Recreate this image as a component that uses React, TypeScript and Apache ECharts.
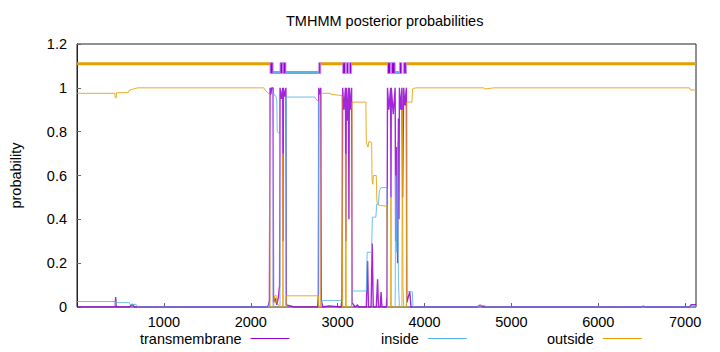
import React, { useEffect, useRef } from "react";
import * as echarts from "echarts";

const seriesNames = ["transmembrane", "inside", "outside"];
const seriesColors = ["#9400d3", "#56b4e9", "#e69f00"];

const transmembrane: number[][] = [
  [1, 0], [400, 0], [440, 0], [445, 0.045], [452, 0], [600, 0], [640, 0.012], [660, 0], [700, 0],
  [2190, 0], [2205, 0.01], [2215, 0.03],
  [2222, 1], [2232, 0.97], [2240, 1], [2257, 1], [2262, 0.02], [2280, 0.04], [2300, 0.01], [2320, 0.05], [2332, 0.1],
  [2337, 1], [2352, 0.95], [2368, 1], [2372, 0.3], [2376, 1], [2390, 0.96], [2405, 1], [2410, 0.01], [2500, 0],
  [2770, 0], [2778, 0.05],
  [2783, 1], [2795, 0.97], [2806, 1], [2812, 0.03], [2830, 0], [2900, 0.005], [3040, 0], [3050, 0.04],
  [3058, 1], [3072, 0.9], [3090, 1], [3094, 0.3], [3100, 1], [3112, 0.85], [3125, 1], [3130, 0.4], [3135, 1],
  [3148, 0.9], [3161, 1], [3166, 0.02],
  [3200, 0], [3230, 0.01], [3240, 0],
  [3330, 0], [3345, 0.21], [3355, 0], [3385, 0], [3398, 0.29], [3410, 0], [3445, 0], [3460, 0.127], [3470, 0],
  [3490, 0], [3500, 0.068], [3510, 0], [3560, 0], [3568, 0.05],
  [3574, 1], [3590, 0.9], [3610, 1], [3614, 0.5], [3618, 1], [3640, 0.88], [3662, 1], [3668, 0.3], [3680, 0.73],
  [3690, 0.2], [3700, 0.86], [3706, 0.4], [3711, 1], [3725, 0.9], [3740, 1], [3748, 0.5], [3760, 1], [3775, 0.92],
  [3791, 1], [3796, 0.02], [3830, 0.07], [3845, 0],
  [4600, 0], [4640, 0.008], [4680, 0], [6500, 0], [6520, 0.004], [6540, 0], [7050, 0], [7070, 0.01], [7125, 0.01],
];

const inside: number[][] = [
  [1, 0.025], [440, 0.025], [445, 0.005], [452, 0.02], [600, 0.02], [610, 0.012], [680, 0.012], [700, 0],
  [2200, 0], [2215, 0.015], [2222, 0], [2257, 0], [2262, 0.975], [2290, 0.96], [2300, 0.94], [2305, 0.8],
  [2330, 0.79], [2337, 0], [2405, 0], [2410, 0.958], [2740, 0.958], [2745, 0.95], [2778, 0.94], [2783, 0],
  [2806, 0], [2812, 0.03], [3050, 0.03], [3058, 0], [3161, 0], [3166, 0.073], [3330, 0.073], [3340, 0.25],
  [3390, 0.25], [3400, 0.41], [3440, 0.41], [3450, 0.47], [3470, 0.47], [3480, 0.53], [3500, 0.545],
  [3568, 0.545], [3574, 0], [3662, 0], [3668, 0.6], [3680, 0.25], [3690, 0.75], [3700, 0.12], [3711, 0],
  [3791, 0], [3796, 0.07], [3860, 0.07], [3868, 0], [4600, 0], [4640, 0.006], [4700, 0.006], [4710, 0],
  [7060, 0], [7080, 0.004], [7125, 0.004],
];

const outside: number[][] = [
  [1, 0.975], [435, 0.975], [440, 0.955], [452, 0.955], [455, 0.978], [590, 0.978], [600, 0.988], [650, 0.995],
  [700, 1], [2150, 1], [2165, 0.99], [2215, 0.97], [2222, 0], [2257, 0], [2262, 0.005], [2275, 0.05],
  [2290, 0.055], [2300, 0.02], [2337, 0], [2368, 0], [2370, 0.7], [2374, 0], [2405, 0], [2410, 0.051],
  [2778, 0.051], [2783, 0], [2806, 0], [2812, 0.975], [2920, 0.975], [2925, 0.97], [3050, 0.965], [3058, 0],
  [3090, 0], [3095, 0.7], [3100, 0], [3161, 0], [3166, 0.935], [3325, 0.935], [3330, 0.75], [3350, 0.73],
  [3360, 0.755], [3392, 0.75], [3396, 0.58], [3405, 0.56], [3412, 0.6], [3445, 0.6], [3452, 0.48],
  [3470, 0.465], [3568, 0.46], [3574, 0], [3610, 0], [3614, 0.5], [3618, 0], [3740, 0], [3745, 0.9],
  [3752, 0.1], [3760, 0], [3791, 0], [3796, 0.935], [3855, 0.935], [3862, 0.995], [3900, 1], [4680, 1],
  [4700, 0.995], [4760, 0.998], [4800, 1], [7050, 1], [7060, 0.99], [7125, 0.99],
];

// predicted topology segments [start, end]
const topoOutside: number[][] = [[1, 2222], [2806, 3058], [3161, 3574], [3791, 7125]];
const topoInside: number[][] = [[2257, 2337], [2405, 2783], [3662, 3711]];
const topoTM: number[][] = [
  [2222, 2257], [2337, 2370], [2372, 2405], [2783, 2806], [3058, 3090], [3100, 3125], [3135, 3161],
  [3574, 3610], [3618, 3662], [3711, 3740], [3760, 3791],
];

const xTicks = [1000, 2000, 3000, 4000, 5000, 6000, 7000];
const seqLength = 7125;

const FONT = "Liberation Sans, Arial, sans-serif";

function lineSeg(level: number, color: string) {
  return (params: any, api: any) => {
    const a = api.coord([api.value(0), level]);
    const b = api.coord([api.value(1), level]);
    return {
      type: "line",
      shape: { x1: a[0], y1: a[1], x2: b[0], y2: b[1] },
      style: { stroke: color, lineWidth: 3 },
    };
  };
}

export default function App() {
  const ref = useRef<HTMLDivElement>(null);
  useEffect(() => {
    if (!ref.current) return;
    const chart = echarts.init(ref.current, null, { renderer: "svg" });
    const widths = [1.4, 1, 1];
    const lineSeries = [transmembrane, inside, outside].map((d, i) => ({
      name: seriesNames[i],
      type: "line",
      data: d,
      symbol: "none",
      showSymbol: false,
      lineStyle: { width: widths[i], color: seriesColors[i], opacity: 0.85 },
      itemStyle: { color: seriesColors[i] },
      z: 2 + i,
    }));
    const legends = [
      { name: seriesNames[0], left: 135 },
      { name: seriesNames[1], left: 376 },
      { name: seriesNames[2], left: 542 },
    ].map((l) => ({
      data: [l.name],
      left: l.left,
      top: 326,
      align: "right",
      icon: "rect",
      itemWidth: 39,
      itemHeight: 1,
      selectedMode: false,
      textStyle: { fontFamily: FONT, fontSize: 14.5, color: "#000", padding: [0, 4, 0, 0] },
    }));
    chart.setOption({
      animation: false,
      title: {
        text: "TMHMM posterior probabilities",
        left: 281,
        top: 8,
        textStyle: { fontFamily: FONT, fontSize: 14.5, fontWeight: "normal", color: "#000" },
      },
      legend: legends,
      grid: {
        left: 73,
        right: 24,
        top: 44,
        bottom: 45,
        show: true,
        borderColor: "#222",
        borderWidth: 1,
        containLabel: false,
      },
      xAxis: {
        type: "value",
        min: 0,
        max: seqLength,
        interval: 1000,
        axisLine: { show: false },
        splitLine: { show: false },
        axisTick: {
          show: true,
          inside: true,
          length: 4,
          lineStyle: { color: "#666" },
          customValues: xTicks,
        },
        axisLabel: {
          fontFamily: FONT,
          fontSize: 14.5,
          color: "#000",
          margin: 7,
          customValues: xTicks,
          formatter: (v: number) => (xTicks.indexOf(v) >= 0 ? String(v) : ""),
        },
      },
      yAxis: {
        type: "value",
        min: 0,
        max: 1.2,
        interval: 0.2,
        name: "probability",
        nameLocation: "middle",
        nameGap: 54,
        nameTextStyle: { fontFamily: FONT, fontSize: 14.5, color: "#000" },
        axisLine: { show: true, lineStyle: { color: "#222" } },
        splitLine: { show: false },
        axisTick: { show: true, inside: true, length: 4, lineStyle: { color: "#666" } },
        axisLabel: { fontFamily: FONT, fontSize: 14.5, color: "#000", margin: 10 },
      },
      series: [
        ...lineSeries,
        {
          name: "topoOutside",
          type: "custom",
          data: topoOutside,
          encode: { x: [0, 1] },
          renderItem: lineSeg(1.11, seriesColors[2]),
          z: 6,
        },
        {
          name: "topoInside",
          type: "custom",
          data: topoInside,
          encode: { x: [0, 1] },
          renderItem: lineSeg(1.07, seriesColors[1]),
          z: 6,
        },
        {
          name: "topoTM",
          type: "custom",
          data: topoTM,
          encode: { x: [0, 1] },
          renderItem: (params: any, api: any) => {
            const a = api.coord([api.value(0), 1.115]);
            const b = api.coord([api.value(1), 1.065]);
            return {
              type: "rect",
              shape: { x: a[0], y: a[1], width: b[0] - a[0], height: b[1] - a[1] },
              style: { fill: seriesColors[0], stroke: "#c58ae8", lineWidth: 1 },
            };
          },
          z: 7,
        },
      ],
    });
    return () => chart.dispose();
  }, []);
  return <div ref={ref} style={{ width: 720, height: 352, margin: -8 }} />;
}
